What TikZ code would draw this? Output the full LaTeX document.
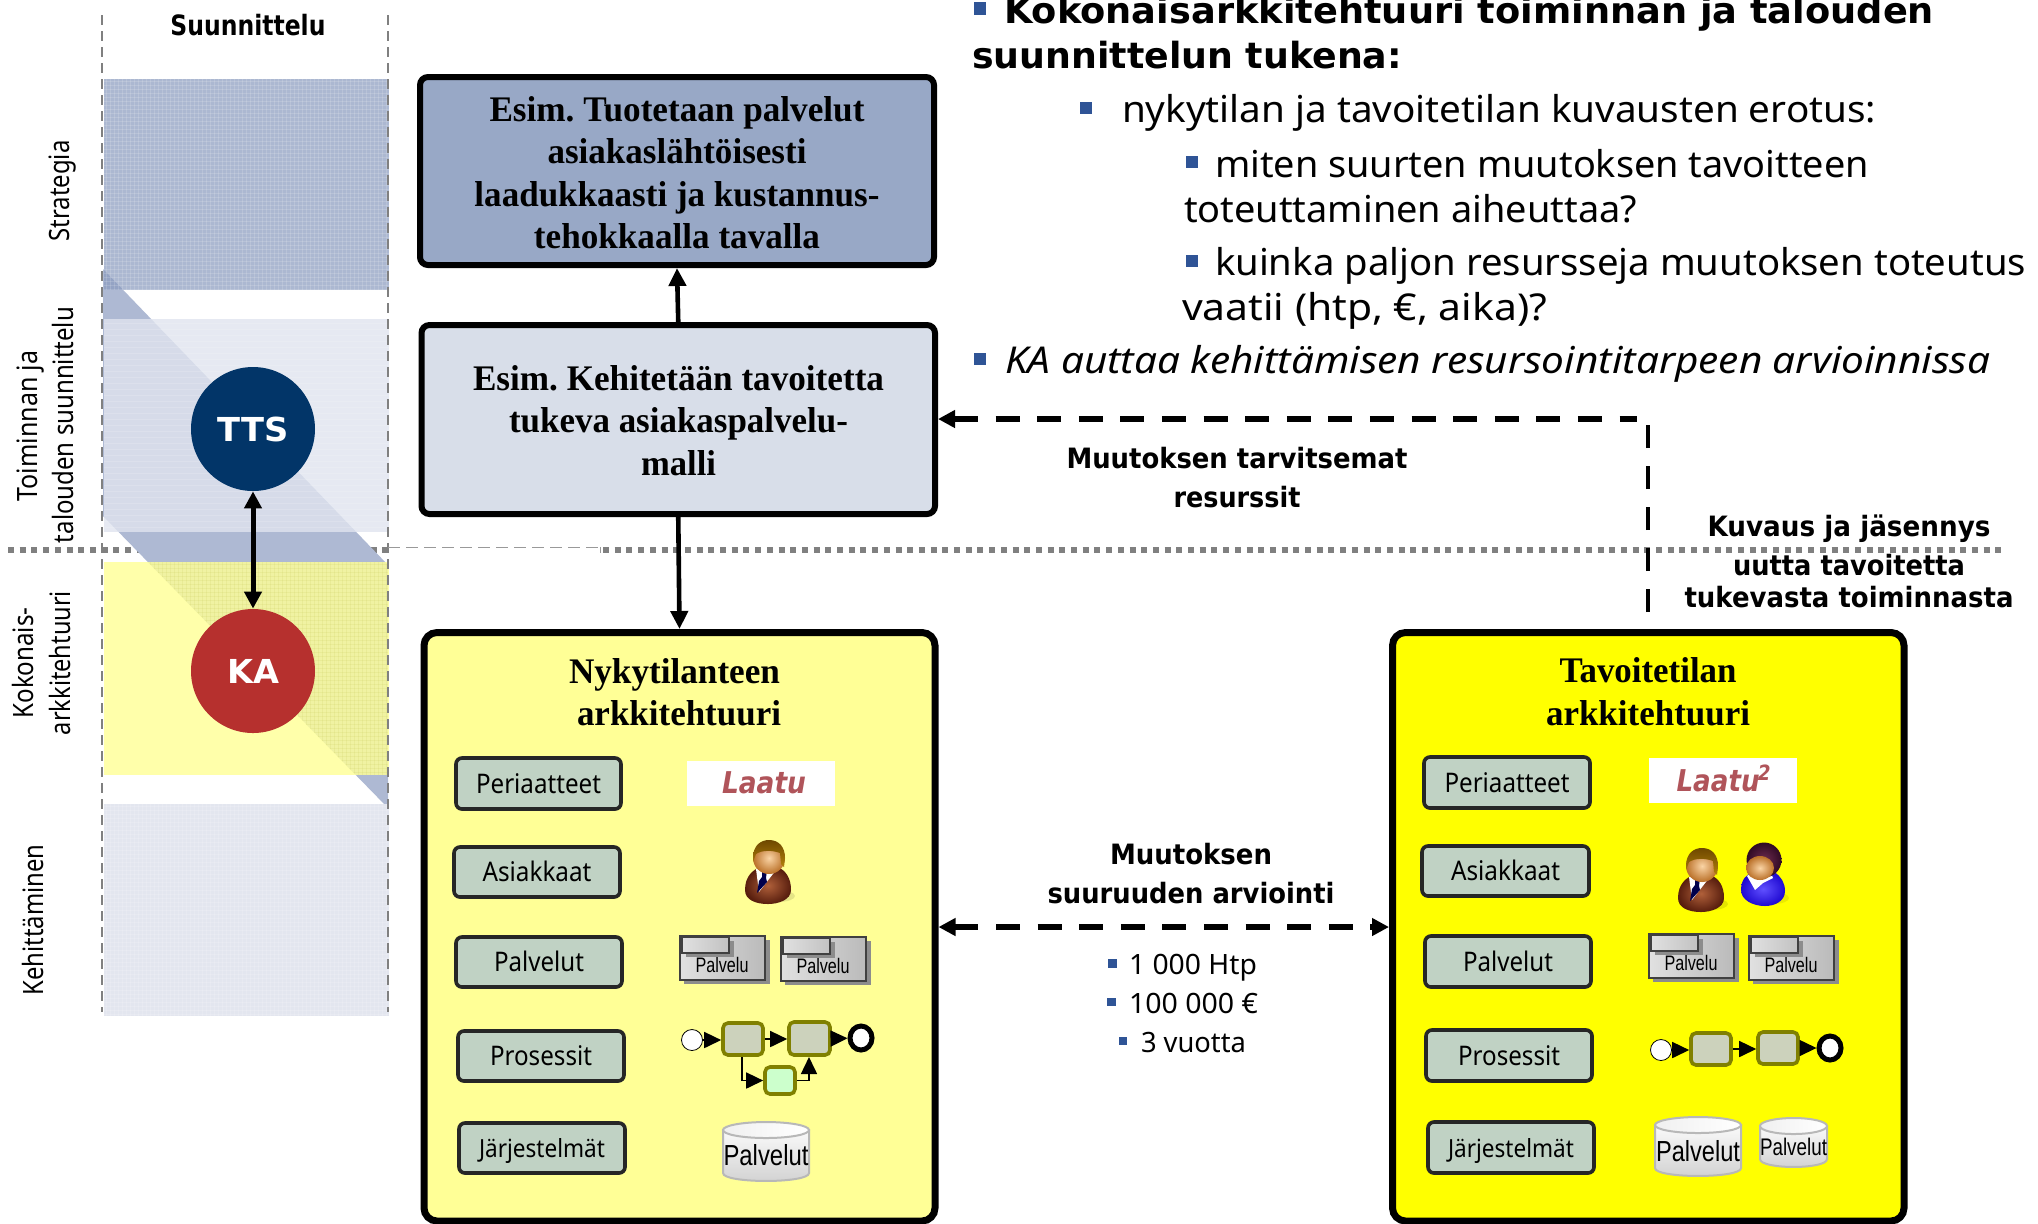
\documentclass[tikz,border=0pt]{standalone}
\usepackage{fontspec}
\usepackage{graphicx}
\usetikzlibrary{arrows.meta,shapes.geometric}
\setmainfont{Noto Sans}
\newfontfamily\fTimes{Liberation Serif}
\newfontfamily\fDeja{DejaVu Sans}
\newfontfamily\fArial{Liberation Sans}
\newdimen\pxu \pxu=0.5pt
% fit a text to a given width in reference pixels, keeping its height
\newcommand\T[2]{\resizebox{#1\pxu}{\height}{#2}}
\newcommand\fs[1]{\fontsize{#1\pxu}{#1\pxu}\selectfont\frenchspacing}
\definecolor{diagc}{HTML}{AEB9D3}
\definecolor{bulletc}{HTML}{2F5496}
\definecolor{smallc}{HTML}{C0D2C4}
\definecolor{olivec}{HTML}{808000}
\definecolor{taskc}{HTML}{CCD2BC}
\definecolor{laatuc}{HTML}{B0545A}
\definecolor{fullyellow}{RGB}{255,255,0}
\definecolor{skinin}{RGB}{250,212,165}
\definecolor{skinout}{RGB}{186,112,40}
\definecolor{jacketin}{RGB}{176,96,58}
\definecolor{jacketout}{RGB}{88,30,14}
\definecolor{hairtop}{RGB}{178,128,10}
\definecolor{hairlow}{RGB}{110,72,0}
\definecolor{wbodyin}{RGB}{96,80,255}
\definecolor{wbodyout}{RGB}{32,10,210}
\definecolor{whairin}{RGB}{110,44,78}
\definecolor{whairout}{RGB}{48,10,36}
\tikzset{
  lab/.style={inner sep=0pt,outer sep=0pt,anchor=base},
  labw/.style={inner sep=0pt,outer sep=0pt,anchor=base west},
  bigbox/.style={draw=black,line width=3pt,rounded corners=4pt,inner sep=0pt},
  yelbox/.style={draw=black,line width=3.5pt,rounded corners=6.5pt,inner sep=0pt},
  smallbox/.style={draw=black!85,fill=smallc,line width=1.8pt,rounded corners=3pt,inner sep=0pt,text height=9.5pt,text depth=0pt},
  taskbox/.style={draw=olivec,line width=1.8pt,rounded corners=2.5pt,inner sep=0pt},
  solidarrow/.style={line width=2.3pt,-{Triangle[length=9pt,width=8.5pt]}},
  dasharrow/.style={line width=2.8pt,dash pattern=on 12pt off 8.8pt,{Triangle[length=8.5pt,width=8.5pt]}-},
  flow/.style={line width=.8pt,-{Triangle[length=8.5pt,width=8pt]}},
  vguide/.style={draw=black!50,line width=1.1pt,dash pattern=on 5pt off 3pt},
  dotline/.style={draw=black!50,line width=3pt,dash pattern=on 3pt off 2.85pt},
  thinline/.style={draw=black!40,line width=.5pt,dash pattern=on 6pt off 3pt},
  bull/.style={fill=bulletc}
}
% node from corner coordinates of its border
\newcommand\bx[7]{%
  \pgfmathsetmacro\bxw{(#5-#3)*0.5}\pgfmathsetmacro\bxh{(#6-#4)*0.5}%
  \pgfmathsetmacro\bxx{(#3+#5)/2}\pgfmathsetmacro\bxy{(#4+#6)/2}%
  \node (#1) [#2,minimum width=\bxw pt,minimum height=\bxh pt] at (\bxx,\bxy) {#7};}
% Palvelu icon
\newcommand\palv[3]{%
  \begin{scope}[shift={(#2,#3)}]
    \fill[black!45] (5,5) rectangle (91,49);
    \draw[draw=black!75,line width=1pt,left color=black!12,right color=black!27] (1,1) rectangle (86,45);
    \node (#1) [lab] at (43,37) {\fArial\fs{21}\T{53}{Palvelu}};
    \fill[black!45] (7,6) rectangle (55,22);
    \draw[draw=black!75,line width=1pt,left color=black!12,right color=black!24] (3,2) rectangle (50,18);
  \end{scope}}
% database icon
\newcommand\cyl[8]{% name x0 y0 x1 y1 textwidth fontsize baseline
  \pgfmathsetmacro\cyc{(#2+#4)/2}\pgfmathsetmacro\cya{(#4-#2)/2}%
  \pgfmathsetmacro\cyt{#3+8}\pgfmathsetmacro\cyb{#5-8}\pgfmathsetmacro\cyd{#5+2.6}%
  \draw[draw=black!28,line width=1pt,top color=black!2,bottom color=black!18]
    (#2,\cyt) -- (#2,\cyb) .. controls (#2,\cyd) and (#4,\cyd) .. (#4,\cyb) -- (#4,\cyt) -- cycle;
  \draw[draw=black!28,line width=1pt,left color=black!6,right color=white] (\cyc,\cyt) ellipse [x radius=\cya,y radius=8];
  \node (#1) [lab] at (\cyc,#8) {\fArial\fs{#7}\T{#6}{Palvelut}};}
% man
\newcommand\man[2]{%
  \begin{scope}[shift={(#1,#2)}]
    \fill[black,opacity=.10] (34,56) ellipse [x radius=17,y radius=6];
    \shade[inner color=jacketin,outer color=jacketout]
      (1,50) .. controls (1,36) and (9,30) .. (16,27) -- (34,27) .. controls (42,31) and (47,38) .. (47,50)
      .. controls (47,60) and (34,64) .. (24,64) .. controls (12,64) and (1,60) .. (1,50) -- cycle;
    \fill[white] (12,29) -- (32,30) -- (15,52) -- cycle;
    \fill[black!70!blue] (18,30) -- (23,30) -- (22,38) -- (23,42) -- (13,53) -- (15,41) -- (18,37) -- cycle;
    \shade[inner color=skinin,outer color=skinout] (25,18) circle [radius=16];
    \shade[top color=hairlow,bottom color=hairtop]
      (9,18) .. controls (9,5) and (17,0) .. (25,0) .. controls (35,0) and (41,7) .. (41,18) -- (40,27) -- (37,24) -- (36,13)
      .. controls (28,10) and (18,10) .. (12,14) -- (9,22) -- cycle;
  \end{scope}}
% woman
\newcommand\woman[2]{%
  \begin{scope}[shift={(#1,#2)}]
    \fill[black,opacity=.08] (32,55) ellipse [x radius=16,y radius=6];
    \shade[inner color=wbodyin,outer color=wbodyout]
      (0,47) .. controls (0,36) and (6,31) .. (12,29) -- (33,29) .. controls (40,33) and (44,40) .. (44,48)
      .. controls (44,58) and (34,63) .. (24,63) .. controls (12,63) and (0,57) .. (0,47) -- cycle;
    \fill[white] (6,33) -- (14,47) -- (22,40) -- (32,35) -- (30,30) -- (18,35) -- (10,30) -- cycle;
    \shade[inner color=whairin,outer color=whairout] (23,17) circle [radius=17.5];
    \shade[inner color=skinin,outer color=skinout] (19,25) ellipse [x radius=14,y radius=12];
  \end{scope}}
\begin{document}
\begin{tikzpicture}[x=0.5pt,y=-0.5pt]
\useasboundingbox (0,0) rectangle (2038,1223);
\fill[white] (0,0) rectangle (2038,1223);
% separator under the bands
\coordinate (sepL) at (8,550); \coordinate (sepM) at (388,550);
\draw[dotline] (sepL) -- (sepM);
% diagonal band
\fill[diagc] (103,269) -- (388,565) -- (388,808) -- (103,516) -- cycle;
% bands
\fill[fill={rgb,255:red,138;green,154;blue,190},opacity=.7] (104,79) rectangle (389,290);
\fill[fill={rgb,255:red,224;green,228;blue,239},opacity=.8] (104,319) rectangle (389,532);
\fill[fill={rgb,255:red,255;green,255;blue,151},opacity=.815] (104,562) rectangle (389,775);
\fill[fill={rgb,255:red,227;green,230;blue,239}] (104,804) rectangle (389,1016);
% textures
\begin{scope}[white,line width=.4pt,opacity=.15]
  \foreach \yy in {81,85,...,290} \draw (104,\yy) -- (389,\yy);
  \foreach \xx in {106,110,...,389} \draw (\xx,79) -- (\xx,290);
  \foreach \yy in {323,329,...,532} \draw (104,\yy) -- (389,\yy);
  \foreach \yy in {806,810,...,1016} \draw (104,\yy) -- (389,\yy);
  \foreach \xx in {106,110,...,389} \draw (\xx,804) -- (\xx,1016);
\end{scope}
\begin{scope}
  \clip (103,269) -- (388,565) -- (388,808) -- (103,516) -- cycle;
  \begin{scope}[black!40!fullyellow,line width=.4pt,opacity=.07]
    \foreach \yy in {564,568,...,775} \draw (104,\yy) -- (389,\yy);
    \foreach \xx in {106,110,...,389} \draw (\xx,562) -- (\xx,775);
  \end{scope}
\end{scope}
% vertical guides
\coordinate (gLa) at (102,15); \coordinate (gLb) at (102,1012);
\coordinate (gRa) at (388,15); \coordinate (gRb) at (388,1012);
\draw[vguide] (gLa) -- (gLb);
\draw[vguide] (gRa) -- (gRb);
% separator, right part
\coordinate (thA) at (388,547); \coordinate (thB) at (600,547);
\coordinate (sepA) at (603,550); \coordinate (sepB) at (2003,550);
\draw[thinline] (thA) -- (thB);
\draw[draw=black!40,line width=.5pt] (600,547) -- (600,553);
\draw[dotline] (sepA) -- (sepB);
% column titles
\node (suun) [lab] at (248,35) {\fDeja\bfseries\fs{28}\T{155}{Suunnittelu}};
\node (l1) [inner sep=0pt,rotate=90] at (63,191) {\fs{28}\T{101}{Strategia}};
\node (l2) [inner sep=0pt,rotate=90] at (31,426) {\fs{28}\T{151}{Toiminnan ja}};
\node (l3) [inner sep=0pt,rotate=90] at (63,425) {\fs{28}\T{236}{talouden suunnittelu}};
\node (l4) [inner sep=0pt,rotate=90] at (23,663) {\fs{28}\T{111}{Kokonais-}};
\node (l5) [inner sep=0pt,rotate=90] at (60,663) {\fs{28}\T{144}{arkkitehtuuri}};
\node (l6) [inner sep=0pt,rotate=90] at (33,920) {\fs{28}\T{151}{Kehittäminen}};
% circles
\node (tts) [circle,fill={rgb,255:red,2;green,53;blue,104},minimum size=62pt,inner sep=0pt,text=white] at (253,429) {\fDeja\bfseries\fs{33}\T{71}{TTS}};
\node (ka) [circle,fill={rgb,255:red,182;green,48;blue,46},minimum size=62pt,inner sep=0pt,text=white] at (253,671) {\fDeja\bfseries\fs{33}\T{52}{KA}};
\draw[line width=2.5pt,{Triangle[length=8.5pt,width=8.5pt]}-{Triangle[length=8.5pt,width=8.5pt]}] (tts) -- (ka);
% main boxes
\bx{boxA}{bigbox,fill={rgb,255:red,152;green,168;blue,198}}{420}{77}{934}{265}{}
\bx{boxB}{bigbox,fill={rgb,255:red,216;green,222;blue,233}}{421.5}{325}{935}{514}{}
\bx{boxC}{yelbox,fill={rgb,255:red,255;green,255;blue,150}}{424}{632.5}{935}{1221}{}
\bx{boxD}{yelbox,fill=fullyellow}{1392.5}{632.5}{1904}{1221}{}
\node (a1) [lab] at (677,121) {\fTimes\bfseries\fs{36}\T{375}{Esim. Tuotetaan palvelut}};
\node (a2) [lab] at (677,163) {\fTimes\bfseries\fs{36}\T{259}{asiakaslähtöisesti}};
\node (a3) [lab] at (677,206) {\fTimes\bfseries\fs{36}\T{405}{laadukkaasti ja kustannus-}};
\node (a4) [lab] at (677,248) {\fTimes\bfseries\fs{36}\T{286}{tehokkaalla tavalla}};
\node (b1) [lab] at (678.5,390) {\fTimes\bfseries\fs{36}\T{411}{Esim. Kehitetään tavoitetta}};
\node (b2) [lab] at (678.5,432) {\fTimes\bfseries\fs{36}\T{339}{tukeva asiakaspalvelu-}};
\node (b3) [lab] at (678.5,475) {\fTimes\bfseries\fs{36}\T{75}{malli}};
\node (c1) [lab] at (674.5,683) {\fTimes\bfseries\fs{36}\T{211}{Nykytilanteen}};
\node (c2) [lab] at (679,725) {\fTimes\bfseries\fs{36}\T{204}{arkkitehtuuri}};
\node (d1) [lab] at (1648,682) {\fTimes\bfseries\fs{36}\T{177}{Tavoitetilan}};
\node (d2) [lab] at (1648,725) {\fTimes\bfseries\fs{36}\T{204}{arkkitehtuuri}};
% connectors between main boxes
\draw[solidarrow] (boxB.north) -- (boxA.south);
\draw[solidarrow] (boxB.south) -- (boxC.north);
\coordinate (vtop) at (1648,424); \coordinate (vbot) at (1648,612); \coordinate (hend) at (1637,419);
\draw[line width=2.3pt,dash pattern=on 11.5pt off 9pt] (vbot) -- (vtop);
\draw[dasharrow] (boxB.east |- hend) -- (hend);
\draw[line width=2.8pt,dash pattern=on 12pt off 8.8pt,{Triangle[length=8.5pt,width=8.5pt]}-{Triangle[length=8.5pt,width=8.5pt]}] (boxC.east |- 0,927) -- (boxD.west |- 0,927);
% labels between boxes
\node (m1) [lab] at (1237,468) {\fDeja\bfseries\fs{28}\T{341}{Muutoksen tarvitsemat}};
\node (m2) [lab] at (1237,507) {\fDeja\bfseries\fs{28}\T{127}{resurssit}};
\node (k1) [lab] at (1849,536) {\fDeja\bfseries\fs{28}\T{283}{Kuvaus ja jäsennys}};
\node (k2) [lab] at (1849,575) {\fDeja\bfseries\fs{28}\T{232}{uutta tavoitetta}};
\node (k3) [lab] at (1849,607) {\fDeja\bfseries\fs{28}\T{329}{tukevasta toiminnasta}};
\node (s1) [lab] at (1191,864) {\fDeja\bfseries\fs{28}\T{162}{Muutoksen}};
\node (s2) [lab] at (1191,903) {\fDeja\bfseries\fs{28}\T{287}{suuruuden arviointi}};
\fill[bull] (1108,959) rectangle (1117,968);
\node (u1) [labw] at (1129,974) {\fs{28}\T{128}{1 000 Htp}};
\fill[bull] (1107,998) rectangle (1116,1006);
\node (u2) [labw] at (1129,1013) {\fs{28}\T{129}{100 000 €}};
\fill[bull] (1119,1037) rectangle (1127,1045);
\node (u3) [labw] at (1141,1052) {\fs{28}\T{105}{3 vuotta}};
% right text
\fill[bull] (974,2) rectangle (986,15);
\node (r1) [labw] at (1004,23) {\fDeja\bfseries\fs{36}\T{930}{Kokonaisarkkitehtuuri toiminnan ja talouden}};
\node (r2) [labw] at (972,68) {\fDeja\bfseries\fs{36}\T{430}{suunnittelun tukena:}};
\fill[bull] (1080,102) rectangle (1092,114);
\node (r3) [labw] at (1122,122) {\fs{37}\T{754}{nykytilan ja tavoitetilan kuvausten erotus:}};
\fill[bull] (1186,156) rectangle (1198,168);
\node (r4) [labw] at (1215,177) {\fs{37}\T{654}{miten suurten muutoksen tavoitteen}};
\node (r5) [labw] at (1184,222) {\fs{37}\T{453}{toteuttaminen aiheuttaa?}};
\fill[bull] (1186,255) rectangle (1198,267);
\node (r6) [labw] at (1215,275) {\fs{37}\T{811}{kuinka paljon resursseja muutoksen toteutus}};
\node (r7) [labw] at (1182,320) {\fs{37}\T{365}{vaatii (htp, €, aika)?}};
\fill[bull] (974,353) rectangle (986,365);
\node (r8) [labw] at (1005,373) {\itshape\fs{37}\T{985}{KA auttaa kehittämisen resursointitarpeen arvioinnissa}};
% inner label boxes, left
\bx{pa}{smallbox}{456}{758}{621}{809}{\fs{27}\T{125}{Periaatteet}}
\bx{pb}{smallbox}{454}{847}{620}{897}{\fs{27}\T{109}{Asiakkaat}}
\bx{pc}{smallbox}{456}{937}{622}{987}{\fs{27}\T{90}{Palvelut}}
\bx{pd}{smallbox}{458}{1031}{624}{1081}{\fs{27}\T{102}{Prosessit}}
\bx{pe}{smallbox}{459}{1123}{625}{1173}{\fs{25}\T{126}{Järjestelmät}}
% inner label boxes, right
\bx{qa}{smallbox}{1424}{757}{1590}{808}{\fs{27}\T{125}{Periaatteet}}
\bx{qb}{smallbox}{1422}{846}{1589}{896}{\fs{27}\T{109}{Asiakkaat}}
\bx{qc}{smallbox}{1425}{936}{1591}{987}{\fs{27}\T{90}{Palvelut}}
\bx{qd}{smallbox}{1426}{1030}{1592}{1081}{\fs{27}\T{102}{Prosessit}}
\bx{qe}{smallbox}{1428}{1122}{1594}{1173}{\fs{25}\T{126}{Järjestelmät}}
% Laatu
\fill[white] (687,761) rectangle (835,806);
\node (la) [lab,text=laatuc] at (764,793) {\fDeja\bfseries\itshape\fs{30}\T{84}{Laatu}};
\fill[white] (1649,758) rectangle (1797,803);
\node (lb) [lab,text=laatuc] at (1724,791) {\fDeja\bfseries\itshape\fs{30}\T{95}{Laatu\kern-1pt\textsuperscript{2}}};
% persons
\man{744}{840}
\man{1677}{848}
\woman{1741}{843}
% service icons
\palv{pv1}{679}{935}
\palv{pv2}{780}{936}
\palv{pv3}{1648}{933}
\palv{pv4}{1748}{935}
% process, left
\node (s) [circle,draw=black,fill=white,line width=.4pt,minimum size=10.5pt,inner sep=0pt] at (692,1040) {};
\bx{t1}{taskbox,fill=taskc}{723}{1023}{763}{1055}{}
\bx{t2}{taskbox,fill=taskc}{789}{1022}{830}{1055}{}
\bx{t3}{taskbox,fill={rgb,255:red,204;green,255;blue,204}}{765}{1067}{795}{1094}{}
\node (e) [ellipse,draw=black,fill=white,line width=2.5pt,minimum width=11pt,minimum height=12pt,inner sep=0pt] at (861,1038) {};
\draw[flow] (s) -- (t1.west |- s);
\draw[flow] (t1.east) -- (t2.west |- t1.east);
\draw[flow] (t2.east) -- (e);
\draw[flow] (742,1057) |- (t3.west);
\draw[flow] (t3.east) -| (809,1057);
% process, right
\node (s2p) [circle,draw=black,fill=white,line width=.4pt,minimum size=10.5pt,inner sep=0pt] at (1661,1050) {};
\bx{t4}{taskbox,fill=taskc}{1691}{1033}{1731}{1065}{}
\bx{t5}{taskbox,fill=taskc}{1758}{1032}{1798}{1064}{}
\node (e2) [ellipse,draw=black,fill=white,line width=2.5pt,minimum width=11pt,minimum height=12pt,inner sep=0pt] at (1830,1048) {};
\draw[flow] (s2p) -- (t4.west |- s2p);
\draw[flow] (t4.east) -- (t5.west |- t4.east);
\draw[flow] (t5.east) -- (e2);
% databases
\cyl{db1}{723}{1122}{809}{1181}{85}{29}{1165}
\cyl{db2}{1655}{1117}{1741}{1176}{84}{29}{1161}
\cyl{db3}{1760}{1118}{1827}{1167}{67}{24}{1155}
\end{tikzpicture}
\end{document}
